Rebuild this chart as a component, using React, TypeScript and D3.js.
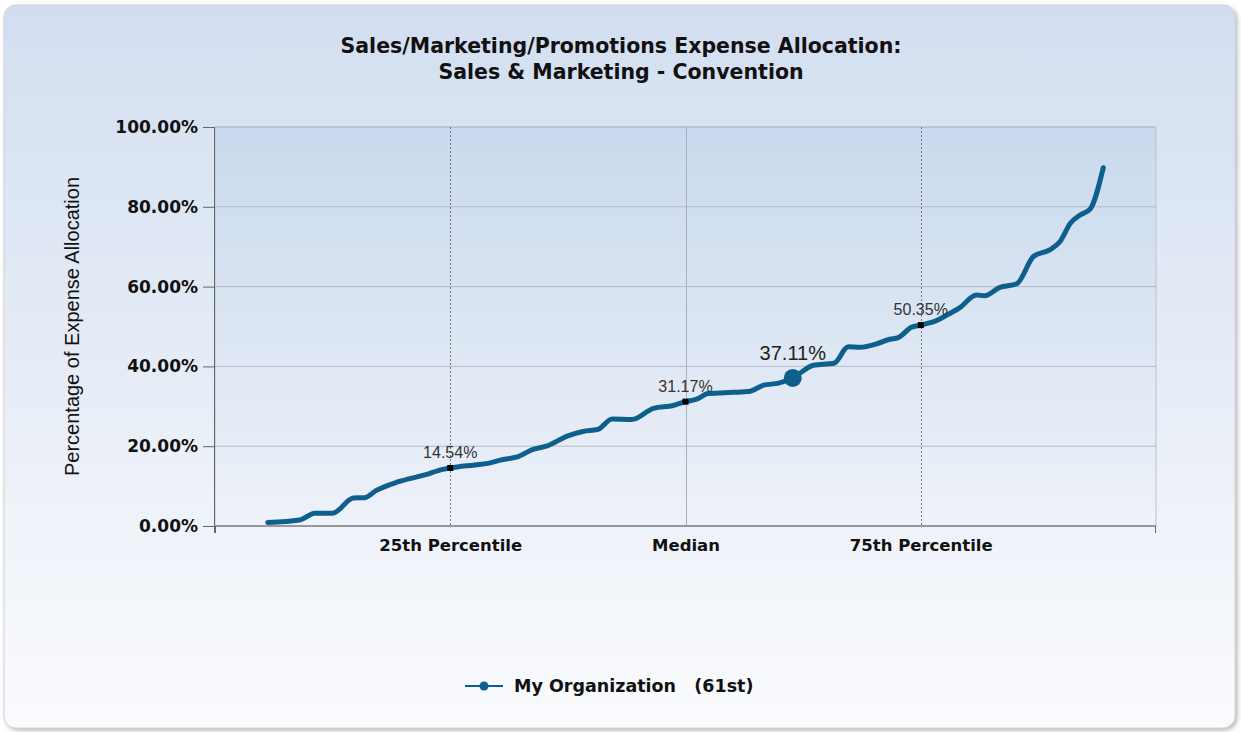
import React, { useEffect, useRef } from 'react';
import * as d3 from 'd3';

// curve: percentile rank -> % of expense allocation
const percentiles = [
  5.6, 9.0, 10.6, 12.5, 14.7, 15.9, 17.2, 19.5, 22.3, 24.2, 25.0, 27.6, 29.0, 30.5, 32.1,
  33.8, 35.2, 37.5, 39.1, 40.7, 42.2, 44.3, 46.6, 48.7, 50.0, 51.2, 52.4, 55.1, 56.7, 58.3,
  59.9, 61.4, 63.6, 65.8, 67.3, 68.5, 70.5, 71.7, 72.6, 74.0, 75.0, 76.7, 77.8, 79.2, 80.9,
  81.8, 83.4, 85.2, 87.0, 88.7, 89.8, 90.9, 91.9, 93.0, 94.4,
];
const values = [
  0.9, 1.5, 3.2, 3.2, 7.0, 7.1, 9.0, 11.1, 12.8, 14.2, 14.54, 15.3, 15.7, 16.6, 17.3,
  19.2, 20.0, 22.6, 23.7, 24.2, 26.8, 26.7, 29.5, 30.2, 31.17, 31.8, 33.2, 33.5, 33.7, 35.3,
  35.8, 37.11, 40.3, 40.8, 44.9, 44.8, 45.8, 46.8, 47.2, 49.8, 50.35, 51.5, 52.9, 54.8, 57.9,
  57.7, 59.8, 60.7, 67.6, 69.2, 71.3, 75.9, 77.9, 79.4, 89.8,
];

const refPercentiles = [25, 50, 75];
const refValues = [14.54, 31.17, 50.35];
const refLabels = ['25th Percentile', 'Median', '75th Percentile'];

const orgPercentile = 61.4;
const orgValue = 37.11;
const orgLegend = 'My Organization   (61st)';

const yTicks = [0, 20, 40, 60, 80, 100];

const W = 1241;
const H = 732;

export default function App() {
  const ref = useRef<SVGSVGElement>(null);

  useEffect(() => {
    const svg = d3.select(ref.current);
    svg.selectAll('*').remove();

    const margin = { top: 127, left: 215, right: 85, bottom: 206 };
    const iw = W - margin.left - margin.right;
    const ih = H - margin.top - margin.bottom;

    const defs = svg.append('defs');
    const bg = defs.append('linearGradient').attr('id', 'bg').attr('x1', 0).attr('y1', 0).attr('x2', 0).attr('y2', 1);
    bg.append('stop').attr('offset', '0%').attr('stop-color', '#d2def0');
    bg.append('stop').attr('offset', '100%').attr('stop-color', '#fafbfd');
    const pg = defs.append('linearGradient').attr('id', 'pg').attr('x1', 0).attr('y1', 0).attr('x2', 0).attr('y2', 1);
    pg.append('stop').attr('offset', '0%').attr('stop-color', '#c9d9ed');
    pg.append('stop').attr('offset', '100%').attr('stop-color', '#eef2f9');
    const sh = defs.append('filter').attr('id', 'sh').attr('x', '-5%').attr('y', '-5%').attr('width', '110%').attr('height', '110%');
    sh.append('feDropShadow').attr('dx', 2).attr('dy', 2).attr('stdDeviation', 2).attr('flood-color', '#888').attr('flood-opacity', 0.6);

    svg.append('rect')
      .attr('x', 4).attr('y', 5).attr('width', 1231).attr('height', 723)
      .attr('rx', 12)
      .attr('fill', 'url(#bg)')
      .attr('stroke', '#d0d4da')
      .attr('filter', 'url(#sh)');

    // title
    const title = svg.append('text')
      .attr('text-anchor', 'middle')
      .style('font-family', '"DejaVu Sans", sans-serif')
      .style('font-weight', 'bold')
      .style('font-size', '20.5px')
      .attr('fill', '#111');
    title.append('tspan').attr('x', 621).attr('y', 53).text('Sales/Marketing/Promotions Expense Allocation:');
    title.append('tspan').attr('x', 621).attr('y', 79).text('Sales & Marketing - Convention');

    const x = d3.scaleLinear().domain([0, 100]).range([0, iw]);
    const y = d3.scaleLinear().domain([0, 100]).range([ih, 0]);

    const g = svg.append('g').attr('transform', `translate(${margin.left},${margin.top})`);

    g.append('rect').attr('width', iw).attr('height', ih).attr('fill', 'url(#pg)').attr('stroke', '#b9c1cc');

    // horizontal grid
    g.selectAll('.hgrid').data(yTicks).enter().append('line')
      .attr('x1', 0).attr('x2', iw)
      .attr('y1', (d) => y(d)).attr('y2', (d) => y(d))
      .attr('stroke', '#b3bbc7').attr('stroke-width', 1);

    // percentile reference lines
    g.selectAll('.vline').data(refPercentiles).enter().append('line')
      .attr('x1', (d) => Math.round(x(d)) + 0.5).attr('x2', (d) => Math.round(x(d)) + 0.5)
      .attr('y1', 0).attr('y2', ih)
      .attr('stroke', (d, i) => (i === 1 ? '#a9b0bb' : '#777'))
      .attr('stroke-dasharray', (d, i) => (i === 1 ? null : '2,2'))
      .attr('stroke-width', 1);

    // y axis
    const yAxis = g.append('g').call(
      d3.axisLeft(y).tickValues(yTicks).tickSize(12).tickPadding(5).tickFormat((d) => `${(+d).toFixed(2)}%`)
    );
    yAxis.select('.domain').attr('d', `M-0.5,0V${ih + 7}`).attr('stroke', '#666');
    yAxis.selectAll('.tick line').attr('stroke', '#666');
    yAxis.selectAll('text')
      .style('font-family', '"DejaVu Sans", sans-serif')
      .style('font-weight', 'bold')
      .style('font-size', '17px')
      .attr('fill', '#111');

    // x axis
    const xAxis = g.append('g').attr('transform', `translate(0,${ih})`).call(
      d3.axisBottom(x).tickValues(refPercentiles).tickSize(0).tickPadding(13).tickFormat((d, i) => refLabels[i])
    );
    xAxis.select('.domain').attr('d', `M0.5,7V0H${iw - 0.5}V7`).attr('stroke', '#666').attr('fill', 'none');
    xAxis.selectAll('text')
      .style('font-family', '"DejaVu Sans", sans-serif')
      .style('font-weight', 'bold')
      .style('font-size', '16.5px')
      .attr('fill', '#111');

    // axis title
    svg.append('text')
      .attr('transform', `translate(79,${margin.top + ih / 2}) rotate(-90)`)
      .attr('text-anchor', 'middle')
      .style('font-family', '"Liberation Sans", Arial, sans-serif')
      .style('font-size', '20px')
      .attr('fill', '#111')
      .text('Percentage of Expense Allocation');

    const pts = percentiles.map((p, i) => [p, values[i]] as [number, number]);
    const line = d3.line<[number, number]>()
      .x((d) => x(d[0]))
      .y((d) => y(d[1]))
      .curve(d3.curveMonotoneX);

    g.append('path')
      .attr('d', line(pts))
      .attr('fill', 'none')
      .attr('stroke', '#0f5f8e')
      .attr('stroke-width', 5)
      .attr('stroke-linecap', 'round')
      .attr('stroke-linejoin', 'round');

    // percentile markers
    g.selectAll('.pm').data(refPercentiles).enter().append('rect')
      .attr('x', (d) => x(d) - 3).attr('y', (d, i) => y(refValues[i]) - 3)
      .attr('width', 6).attr('height', 6).attr('fill', '#000');
    g.selectAll('.pl').data(refPercentiles).enter().append('text')
      .attr('x', (d) => x(d)).attr('y', (d, i) => y(refValues[i]) - 10)
      .attr('text-anchor', 'middle')
      .style('font-family', '"Liberation Sans", Arial, sans-serif')
      .style('font-size', '16px')
      .attr('fill', '#333')
      .text((d, i) => `${refValues[i].toFixed(2)}%`);

    // my organization
    g.append('circle').attr('cx', x(orgPercentile)).attr('cy', y(orgValue)).attr('r', 9).attr('fill', '#0f5f8e');
    g.append('text')
      .attr('x', x(orgPercentile)).attr('y', y(orgValue) - 18)
      .attr('text-anchor', 'middle')
      .style('font-family', '"Liberation Sans", Arial, sans-serif')
      .style('font-size', '20px')
      .attr('fill', '#222')
      .text(`${orgValue.toFixed(2)}%`);

    // legend
    const lg = svg.append('g').attr('transform', 'translate(465,686)');
    lg.append('line').attr('x1', 0).attr('x2', 38).attr('y1', 0).attr('y2', 0).attr('stroke', '#0f5f8e').attr('stroke-width', 2);
    lg.append('circle').attr('cx', 19).attr('cy', 0).attr('r', 4.5).attr('fill', '#0f5f8e');
    lg.append('text')
      .attr('x', 49).attr('y', 6)
      .attr('xml:space', 'preserve')
      .style('white-space', 'pre')
      .style('font-family', '"DejaVu Sans", sans-serif')
      .style('font-weight', 'bold')
      .style('font-size', '17.5px')
      .attr('fill', '#111')
      .text(orgLegend);
  }, []);

  return (
    <svg
      ref={ref}
      width={W}
      height={H}
      style={{ position: 'absolute', left: 0, top: 0, background: '#fff' }}
    />
  );
}
